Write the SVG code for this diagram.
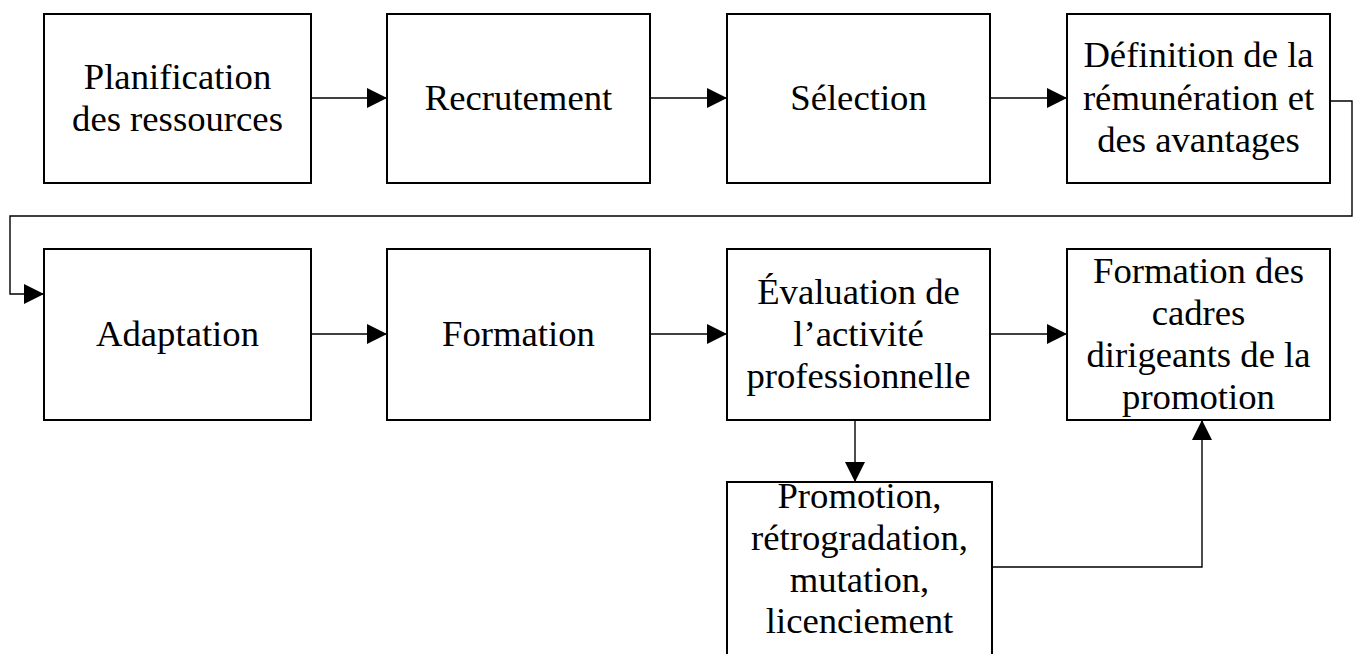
<svg xmlns="http://www.w3.org/2000/svg" width="1358" height="654" viewBox="0 0 1358 654">
<style>
.box{fill:#fff;stroke:#000;stroke-width:2}
.t{font-family:"Liberation Serif","Times New Roman",serif;font-size:36.7px;fill:#000;text-anchor:middle}
.c{fill:none;stroke:#000;stroke-width:1.4}
</style>
<defs>
<marker id="ah" viewBox="0 0 20 20" refX="20" refY="10" markerWidth="20" markerHeight="20" markerUnits="userSpaceOnUse" orient="auto">
<path d="M0,0 L20,10 L0,20 Z" fill="#000"/>
</marker>
</defs>
<rect width="1358" height="654" fill="#fff"/>
<g id="connectors">
<path class="c" d="M311,98 H387" marker-end="url(#ah)"/>
<path class="c" d="M650,98 H727" marker-end="url(#ah)"/>
<path class="c" d="M990,98 H1067" marker-end="url(#ah)"/>
<path class="c" d="M1330,101 H1352 V216 H10 V294 H44" marker-end="url(#ah)"/>
<path class="c" d="M311,334 H387" marker-end="url(#ah)"/>
<path class="c" d="M650,334 H727" marker-end="url(#ah)"/>
<path class="c" d="M990,334 H1067" marker-end="url(#ah)"/>
<path class="c" d="M855,420 V482" marker-end="url(#ah)"/>
<path class="c" d="M992,567 H1202 V420" marker-end="url(#ah)"/>
</g>
<g id="n1"><rect class="box" x="44" y="14" width="267" height="169"/>
<text class="t" x="177.5" y="89">Planification</text><text class="t" x="177.5" y="131">des ressources</text></g>
<g id="n2"><rect class="box" x="387" y="14" width="263" height="169"/>
<text class="t" x="518.5" y="109.5">Recrutement</text></g>
<g id="n3"><rect class="box" x="727" y="14" width="263" height="169"/>
<text class="t" x="858.5" y="109.5">Sélection</text></g>
<g id="n4"><rect class="box" x="1067" y="14" width="263" height="169"/>
<text class="t" x="1198.5" y="67">Définition de la</text><text class="t" x="1198.5" y="109.5">rémunération et</text><text class="t" x="1198.5" y="152">des avantages</text></g>
<g id="n5"><rect class="box" x="44" y="249" width="267" height="171"/>
<text class="t" x="177.5" y="346">Adaptation</text></g>
<g id="n6"><rect class="box" x="387" y="249" width="263" height="171"/>
<text class="t" x="518.5" y="346">Formation</text></g>
<g id="n7"><rect class="box" x="727" y="249" width="263" height="171"/>
<text class="t" x="858.5" y="304">Évaluation de</text><text class="t" x="858.5" y="346">l’activité</text><text class="t" x="858.5" y="388">professionnelle</text></g>
<g id="n8"><rect class="box" x="1067" y="249" width="263" height="171"/>
<text class="t" x="1198.5" y="283">Formation des</text><text class="t" x="1198.5" y="325">cadres</text><text class="t" x="1198.5" y="367">dirigeants de la</text><text class="t" x="1198.5" y="409">promotion</text></g>
<g id="n9"><rect class="box" x="727" y="482" width="265" height="190"/>
<text class="t" x="859.5" y="508">Promotion,</text><text class="t" x="859.5" y="550">rétrogradation,</text><text class="t" x="859.5" y="592">mutation,</text><text class="t" x="859.5" y="633">licenciement</text></g>
</svg>
